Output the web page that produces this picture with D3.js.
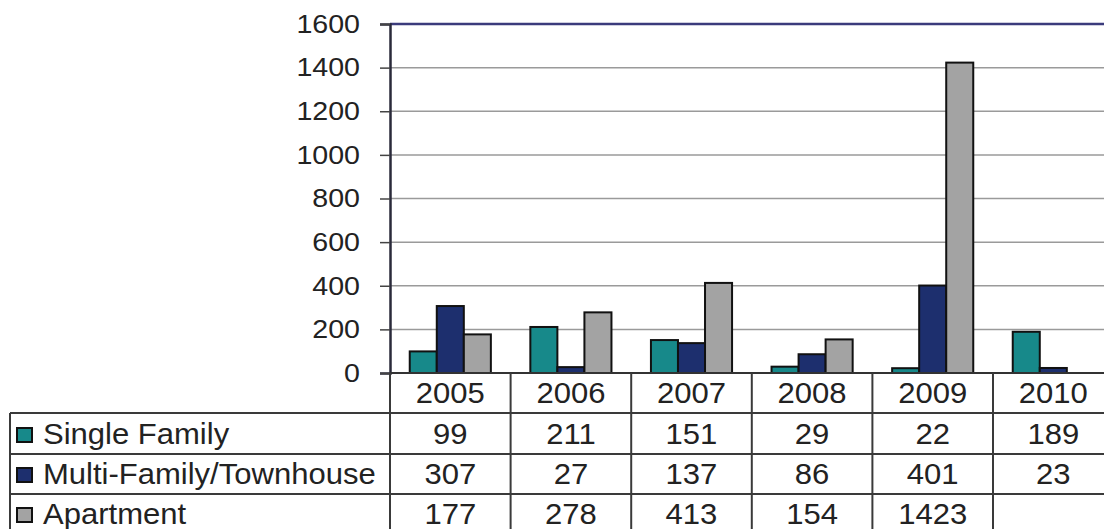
<!DOCTYPE html>
<html><head><meta charset="utf-8">
<script src="https://cdn.jsdelivr.net/npm/d3@7"></script>
<style>body{margin:0;background:#fff}svg{display:block}</style>
</head><body>
<svg id="c" width="1104" height="529"></svg>
<script>
const years = ["2005","2006","2007","2008","2009","2010"];
const seriesNames = ["Single Family","Multi-Family/Townhouse","Apartment"];
const singleFamily = [99,211,151,29,22,189];
const multiFamily = [307,27,137,86,401,23];
const apartment = [177,278,413,154,1423,null];
const yTicks = [0,200,400,600,800,1000,1200,1400,1600];
const colors = ["#17898a","#1d2f6e","#a3a3a3"];
const seriesValues = [singleFamily, multiFamily, apartment];

(function(){
const svg = d3.select("#c");
const font = "Liberation Sans, Arial, sans-serif";
const pLeft = 390, pTop = 24, pBottom = 373, bandW = 120.6;
const sx = 1.07;
const x = d3.scaleBand().domain(years).range([pLeft, pLeft + bandW*6]).paddingInner(0).paddingOuter(0);
const y = d3.scaleLinear().domain([0,1600]).range([pBottom, pTop]);
const xs = d3.scaleBand().domain(d3.range(3)).range([0, x.bandwidth()]).paddingOuter(0.73).paddingInner(0);

function stretchedText(sel, tx, ty, txt, size, anchor) {
  return sel.append("text").attr("transform", `translate(${tx},${ty}) scale(${sx},1)`)
    .attr("text-anchor", anchor || "start").attr("font-family", font).attr("font-size", size)
    .attr("fill", "#222").text(txt);
}

// gridlines
svg.append("g").selectAll("line").data(yTicks.filter(t=>t>0 && t<1600)).join("line")
  .attr("x1", pLeft).attr("x2", 1104).attr("y1", d=>y(d)).attr("y2", d=>y(d))
  .attr("stroke", "#9a9a9a").attr("stroke-width", 1.5);
// top border
svg.append("line").attr("x1", pLeft).attr("x2", 1104).attr("y1", y(1600)).attr("y2", y(1600))
  .attr("stroke", "#3b3b7c").attr("stroke-width", 2.5);

// y axis
const yAxis = d3.axisLeft(y).tickValues(yTicks).tickSize(10).tickPadding(20).tickFormat(d3.format("d"));
const gy = svg.append("g").attr("transform", `translate(${pLeft},0)`).call(yAxis);
gy.select(".domain").attr("stroke", "#2a2a3a").attr("stroke-width", 2.5);
gy.selectAll(".tick line").attr("stroke", "#444").attr("stroke-width", 1.5);
gy.selectAll(".tick text").attr("font-family", font).attr("font-size", 26).attr("fill", "#222")
  .attr("transform", "scale(1.1,1)").attr("x", -30/1.1);

// bars
const g = svg.append("g");
seriesValues.forEach((vals, si) => {
  g.append("g").selectAll("rect").data(years.map((yr,i)=>({yr, v: vals[i]})).filter(d=>d.v!=null)).join("rect")
    .attr("x", d => x(d.yr) + xs(si))
    .attr("width", xs.bandwidth())
    .attr("y", d => y(d.v))
    .attr("height", d => y(0) - y(d.v))
    .attr("fill", colors[si]).attr("stroke", "#111").attr("stroke-width", 2);
});
// baseline
svg.append("line").attr("x1", pLeft).attr("x2", 1104).attr("y1", pBottom).attr("y2", pBottom)
  .attr("stroke", "#333").attr("stroke-width", 2);

// data table
const tableLeft = 10;
const rowLines = [413, 454, 494];
const baselines = [444, 484, 524];
const lineC = "#3a3a3a";
const t = svg.append("g");
rowLines.forEach(yy => {
  t.append("line").attr("x1", tableLeft).attr("x2", 1104).attr("y1", yy).attr("y2", yy)
    .attr("stroke", lineC).attr("stroke-width", 2);
});
t.append("line").attr("x1", tableLeft).attr("x2", tableLeft).attr("y1", 413).attr("y2", 529).attr("stroke", lineC).attr("stroke-width", 2);
[...years.map(d=>x(d)), x(years[5]) + x.bandwidth()].forEach(xx => {
  t.append("line").attr("x1", xx).attr("x2", xx).attr("y1", pBottom).attr("y2", 529).attr("stroke", lineC).attr("stroke-width", 2);
});
years.forEach(yr => stretchedText(t, x(yr) + x.bandwidth()/2, 403, yr, 29, "middle"));
seriesValues.forEach((vals, si) => {
  const by = baselines[si];
  t.append("rect").attr("x", 17).attr("y", by - 16).attr("width", 15).attr("height", 14)
    .attr("fill", colors[si]).attr("stroke", "#111").attr("stroke-width", 2);
  stretchedText(t, 43, by, seriesNames[si], 29, "start");
  years.forEach((yr, i) => {
    if (vals[i] != null) stretchedText(t, x(yr) + x.bandwidth()/2, by, String(vals[i]), 29, "middle");
  });
});
})();
</script>
</body></html>
